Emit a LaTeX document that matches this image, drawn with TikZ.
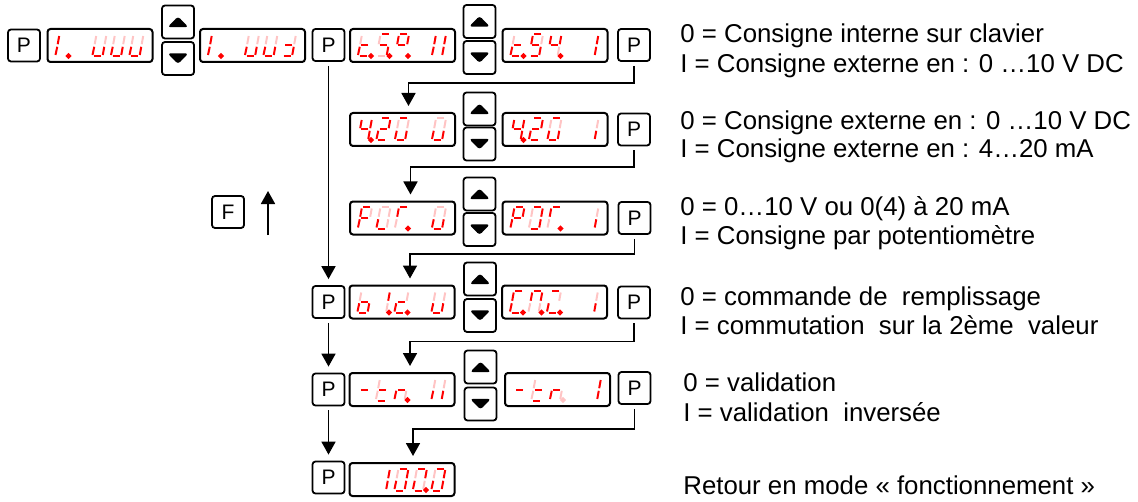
\documentclass[tikz,border=0pt]{standalone}
\usepackage{fontspec}
\setmainfont{Liberation Sans}
\usetikzlibrary{arrows.meta,calc}
\definecolor{segon}{HTML}{FF0000}
\definecolor{segoff}{HTML}{FFC4C4}
% seven-segment pieces: #1 style, #2 x0 (left bottom), #3 y0 (bottom, y down)
\newcommand\SEGa[3]{\draw[#1] ({#2+1.5+0.18*22},{#3-22}) -- ({#2+8.5+0.18*22},{#3-22});}
\newcommand\SEGb[3]{\draw[#1] ({#2+10+0.18*20.5},{#3-20.5}) -- ({#2+10+0.18*12.3},{#3-12.3});}
\newcommand\SEGc[3]{\draw[#1] ({#2+10+0.18*9.7},{#3-9.7}) -- ({#2+10+0.18*1.5},{#3-1.5});}
\newcommand\SEGd[3]{\draw[#1] ({#2+1.5},{#3}) -- ({#2+8.5},{#3});}
\newcommand\SEGe[3]{\draw[#1] ({#2},{#3-1.5}) -- ({#2+0.18*9.7},{#3-9.7});}
\newcommand\SEGf[3]{\draw[#1] ({#2+0.18*12.3},{#3-12.3}) -- ({#2+0.18*20.5},{#3-20.5});}
\newcommand\SEGg[3]{\draw[#1] ({#2+1.5+0.18*11},{#3-11}) -- ({#2+8.5+0.18*11},{#3-11});}
\newcommand\SEGp[3]{\fill[#1] ({#2+13},{#3-0.5}) circle[radius=1.8];}
\newcommand\SEGn[3]{}
% #1 display left x, #2 display centre y, #3 cell index, #4 lit segments, #5 faint segments
\newcommand\sevcell[5]{%
  \pgfmathsetmacro\cx{#1+8+18.5*(#3-1)}%
  \pgfmathsetmacro\cy{#2+11}%
  \foreach \s in {#5}{\csname SEG\s\endcsname{faintseg}{\cx}{\cy}}%
  \foreach \s in {#4}{\csname SEG\s\endcsname{litseg}{\cx}{\cy}}%
}
\begin{document}
\begin{tikzpicture}[x=0.5pt,y=-0.5pt,
  btn/.style={draw, line width=0.9pt, rounded corners=1.5pt, minimum width=16pt,
    minimum height=16pt, inner sep=0pt, font=\fontsize{10.5}{11}\selectfont},
  upbtn/.style={btn, minimum height=16.5pt, path picture={\fill
    ([shift={(-5.2pt,-2.6pt)}]path picture bounding box.center) -- ++(10.4pt,0pt) -- ++(-5.2pt,5.4pt) -- cycle;}},
  dnbtn/.style={btn, minimum height=16.5pt, path picture={\fill
    ([shift={(-5.2pt,2.6pt)}]path picture bounding box.center) -- ++(10.4pt,0pt) -- ++(-5.2pt,-5.4pt) -- cycle;}},
  disp/.style={draw, line width=1pt, rounded corners=1.5pt, minimum width=52.5pt,
    minimum height=16.5pt, inner sep=0pt},
  litseg/.style={draw=segon, fill=segon, line width=1pt},
  faintseg/.style={draw=segoff, fill=segoff, line width=1pt},
  arr/.style={line width=0.9pt, -{Triangle[length=6.5pt,width=7pt]}, shorten >=3pt, shorten <=2pt},
  txt/.style={anchor=base west, inner sep=0pt, font=\fontsize{12.9}{15}\selectfont}]
\useasboundingbox (0,0) rectangle (1138,502);

% ---- row 1
\node[btn] (P1a) at (24,45.5) {P};
\node[disp] (D1) at (100,45.5) {};
\node[upbtn] (U1) at (178,22) {};
\node[dnbtn] (N1) at (178,58.5) {};
\node[disp] (D2) at (252.5,45.5) {};
\node[btn] (P1m) at (328.5,45) {P};
\node[disp] (D3) at (402.5,45.5) {};
\node[upbtn] (U2) at (479.5,21.5) {};
\node[dnbtn] (N2) at (479.5,57.5) {};
\node[disp] (D4) at (555,45.5) {};
\node[btn] (P1b) at (634,45) {P};

% ---- row 2
\node[disp] (D5) at (402.5,129.5) {};
\node[upbtn] (U3) at (479.5,109) {};
\node[dnbtn] (N3) at (479.5,144) {};
\node[disp] (D6) at (555,129.5) {};
\node[btn] (P2b) at (634,129.5) {P};

% ---- row 3
\node[disp] (D7) at (402.5,218) {};
\node[upbtn] (U4) at (479.5,194) {};
\node[dnbtn] (N4) at (479.5,229.5) {};
\node[disp] (D8) at (555,218) {};
\node[btn] (P3b) at (634.5,218) {P};

\node[btn] (F) at (228,212) {F};
\coordinate (Fs) at (268,235);
\coordinate (Fe) at (268,191);
\draw[line width=0.9pt, -{Triangle[length=6.5pt,width=7pt]}] (Fs) -- (Fe);

% ---- row 4
\node[btn] (P4a) at (328.5,302) {P};
\node[disp] (D9) at (402,302) {};
\node[upbtn] (U5) at (480,279) {};
\node[dnbtn] (N5) at (480,315.5) {};
\node[disp] (D10) at (554.5,302) {};
\node[btn] (P4b) at (634,302.5) {P};

% ---- row 5
\node[btn] (P5a) at (328.5,389.5) {P};
\node[disp] (D11) at (402,389.5) {};
\node[upbtn] (U6) at (480.5,367) {};
\node[dnbtn] (N6) at (480.5,404) {};
\node[disp] (D12) at (557.5,389.5) {};
\node[btn] (P5b) at (634.5,388) {P};

% ---- row 6
\node[btn] (P6a) at (328.5,477.5) {P};
\node[disp] (D13) at (402,479.5) {};

% ---- digits
\sevcell{47.5}{45.5}{1}{e,f,p}{n}
\sevcell{47.5}{45.5}{3}{c,d,e}{b,f}
\sevcell{47.5}{45.5}{4}{c,d,e}{b,f}
\sevcell{47.5}{45.5}{5}{c,d,e}{b,f}

\sevcell{200}{45.5}{1}{e,f,p}{n}
\sevcell{200}{45.5}{3}{c,d,e}{b,f}
\sevcell{200}{45.5}{4}{c,d,e}{b,f}
\sevcell{200}{45.5}{5}{g,c,d}{b}

\sevcell{350}{45.5}{1}{g,e,d,p}{f}
\sevcell{350}{45.5}{2}{a,g,c,p}{f,d}
\sevcell{350}{45.5}{3}{a,b,f,g,p}{n}
\sevcell{350}{45.5}{5}{e,f,b,c}{n}

\sevcell{502.5}{45.5}{1}{g,e,d,p}{f}
\sevcell{502.5}{45.5}{2}{a,f,g,c,d}{b}
\sevcell{502.5}{45.5}{3}{f,g,b,p}{c}
\sevcell{502.5}{45.5}{5}{b,c}{n}

\sevcell{350}{129.5}{1}{f,g,b,c,p}{n}
\sevcell{350}{129.5}{2}{a,b,g,e,d}{n}
\sevcell{350}{129.5}{3}{a,c,d,e}{b,f}
\sevcell{350}{129.5}{5}{c,d,e}{a,b,f}

\sevcell{502.5}{129.5}{1}{f,g,b,c,p}{n}
\sevcell{502.5}{129.5}{2}{a,b,g,e,d}{n}
\sevcell{502.5}{129.5}{3}{a,c,d,e}{b,f}
\sevcell{502.5}{129.5}{5}{c}{b}

\sevcell{350}{218}{1}{a,f,g,e}{b}
\sevcell{350}{218}{2}{d,e}{a,b,c,f}
\sevcell{350}{218}{3}{a,f,p}{e}
\sevcell{350}{218}{5}{c,d,e}{a,b,f}

\sevcell{502.5}{218}{1}{a,b,f,g,e}{n}
\sevcell{502.5}{218}{2}{a,b,c,d}{e,f}
\sevcell{502.5}{218}{3}{a,f,p}{e}
\sevcell{502.5}{218}{5}{c}{b}

\sevcell{349.5}{302}{1}{g,d,e,c}{f}
\sevcell{349.5}{302}{2}{b,p}{c}
\sevcell{349.5}{302}{3}{g,d,e,p}{b}
\sevcell{349.5}{302}{5}{c,d,e}{b,f}

\sevcell{502}{302}{1}{a,f,e,d,p}{n}
\sevcell{502}{302}{2}{a,b,f,p}{c,e}
\sevcell{502}{302}{3}{a,e,d,p}{b}
\sevcell{502}{302}{5}{c}{b}

\sevcell{349.5}{389.5}{1}{g}{n}
\sevcell{349.5}{389.5}{2}{g,d}{e,f}
\sevcell{349.5}{389.5}{3}{g,e,p}{c}
\sevcell{349.5}{389.5}{5}{e,c}{f,b}

\sevcell{505}{389.5}{1}{g}{n}
\sevcell{505}{389.5}{2}{g,d}{e,f}
\sevcell{505}{389.5}{3}{g,e}{c,p}
\sevcell{505}{389.5}{5}{b,c}{n}

\sevcell{349.5}{479.5}{2}{b,c}{n}
\sevcell{349.5}{479.5}{3}{a,b,c,d,e}{f}
\sevcell{349.5}{479.5}{4}{a,b,d,e,p}{c,f}
\sevcell{349.5}{479.5}{5}{a,b,c,d,e}{f}

% ---- connectors
\draw[arr] (P1b.south) -- ++(0,21) -| ($(D5.north)+(6,0)$);
\draw[arr] (P2b.south) -- ++(0,21) -| ($(D7.north)+(8,0)$);
\draw[arr] (P3b.south) -- ++(0,19) -| ($(D9.north)+(8,0)$);
\draw[arr] (P4b.south) -- ++(0,22) -| ($(D11.north)+(8,0)$);
\draw[arr] (P5b.south) -- ++(0,24) -| ($(D13.north)+(11,0)$);
\draw[arr] (P1m.south) -- (P4a.north);
\draw[arr] (P4a.south) -- (P5a.north);
\draw[arr] (P5a.south) -- (P6a.north);

% ---- texts
\node[txt] (T1a) at (680,43) {0 = Consigne interne sur clavier};
\node[txt] (T1b) at (680,73) {I = Consigne externe en : 0 …10 V DC};
\node[txt] (T2a) at (680,130) {0 = Consigne externe en : 0 …10 V DC};
\node[txt] (T2b) at (680,158) {I = Consigne externe en : 4…20 mA};
\node[txt] (T3a) at (680,215) {0 = 0…10 V ou 0(4) à 20 mA};
\node[txt] (T3b) at (680,244) {I = Consigne par potentiomètre};
\node[txt] (T4a) at (680,305) {0 = commande de~ remplissage};
\node[txt] (T4b) at (680,334) {I = commutation~ sur la 2ème~ valeur};
\node[txt] (T5a) at (683,391) {0 = validation};
\node[txt] (T5b) at (683,421) {I = validation~ inversée};
\node[txt] (T6) at (683,494) {Retour en mode « fonctionnement »};
\end{tikzpicture}
\end{document}
